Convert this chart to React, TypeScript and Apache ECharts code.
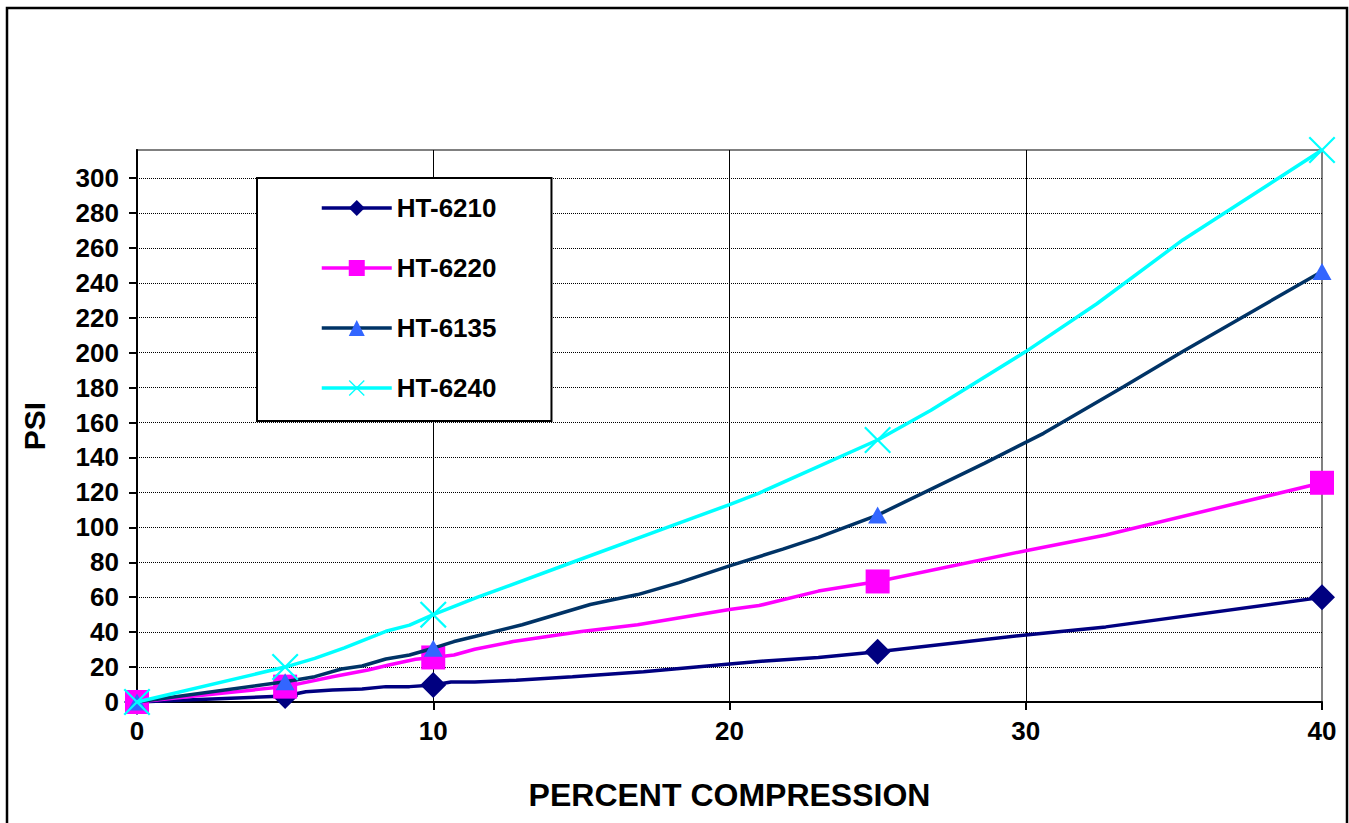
import React, { useEffect, useRef } from "react";
import * as echarts from "echarts";

// ---- data ----
const seriesNames = ["HT-6210", "HT-6220", "HT-6135", "HT-6240"];
const xTicks = [0, 10, 20, 30, 40];
const yTicks = [0, 20, 40, 60, 80, 100, 120, 140, 160, 180, 200, 220, 240, 260, 280, 300];
const markerX = [0, 5, 10, 25, 40];

const ht6210X = [0, 5, 5.7, 6.6, 7.6, 8.4, 9.2, 10, 10.6, 11.4, 12.8, 14.7, 17.1, 20, 21.2, 23, 25, 30, 32.7, 40];
const ht6210Y = [0, 3.4, 5.9, 6.9, 7.4, 8.8, 8.8, 9.7, 11.5, 11.5, 12.5, 14.4, 17.3, 21.7, 23.5, 25.5, 28.8, 38.4, 43, 59.9];

const ht6220X = [0, 5, 6.6, 7.8, 8.5, 9.4, 10, 10.7, 11.4, 12.7, 15, 16.9, 20, 21, 23, 25, 30, 32.7, 40];
const ht6220Y = [0, 8.8, 14.5, 18.3, 21.2, 24.5, 25.5, 26.9, 30.2, 34.6, 40.4, 44.2, 52.9, 55.2, 63.5, 69, 86.6, 95.6, 125.5];

const ht6135X = [0, 5, 6, 6.9, 7.6, 8.4, 9.2, 10, 10.7, 11.4, 13, 15.3, 16.9, 18.3, 20, 21.8, 23, 25, 28.6, 30.6, 33.3, 35.3, 40];
const ht6135Y = [0, 11.6, 14.5, 18.9, 20.6, 24.6, 26.9, 30.8, 34.6, 37.5, 44.2, 55.8, 61.5, 68.3, 77.9, 87.5, 94.2, 107, 136.6, 153.8, 180.5, 200.6, 246.5];

const ht6240X = [0, 5, 6, 7, 8.4, 9.2, 10, 11.5, 14.7, 17.9, 20, 21, 25, 26.8, 30, 32.4, 35.3, 40];
const ht6240Y = [0, 20, 25, 31, 40.5, 44, 50, 60, 80, 100, 113, 119.6, 150, 167, 200.6, 228, 264.5, 316];

const crossSymbol =
  "path://M0,1.5L1.5,0L13,11.5L24.5,0L26,1.5L14.5,13L26,24.5L24.5,26L13,14.5L1.5,26L0,24.5L11.5,13Z";

function buildData(xs: number[], ys: number[]) {
  return xs.map((x, i) => {
    const item: any = { value: [x, ys[i]] };
    if (markerX.indexOf(x) < 0) item.symbol = "none";
    return item;
  });
}

const FONT = "'Liberation Sans', Arial, Helvetica, sans-serif";

export default function App() {
  const ref = useRef<HTMLDivElement>(null);

  useEffect(() => {
    if (!ref.current) return;
    const chart = echarts.init(ref.current, undefined, { renderer: "svg" });

    const lineBase = { type: "line", clip: false, showSymbol: true };

    const option: any = {
      animation: false,
      backgroundColor: "#ffffff",
      textStyle: { fontFamily: FONT },
      grid: {
        left: 137,
        right: 27,
        top: 150,
        bottom: 121,
        show: true,
        borderColor: "#808080",
        borderWidth: 2,
        backgroundColor: "transparent",
      },
      legend: {
        orient: "vertical",
        left: 257,
        top: 178,
        padding: [17, 55, 20, 63],
        itemGap: 34,
        itemWidth: 70,
        itemHeight: 20,
        backgroundColor: "#ffffff",
        borderColor: "#000000",
        borderWidth: 2,
        lineStyle: { width: 3.5 },
        textStyle: { fontSize: 26, fontWeight: "bold", color: "#000", fontFamily: FONT },
        data: seriesNames,
      },
      xAxis: {
        type: "value",
        min: xTicks[0],
        max: xTicks[xTicks.length - 1],
        interval: xTicks[1] - xTicks[0],
        name: "PERCENT COMPRESSION",
        nameLocation: "middle",
        nameGap: 77,
        nameTextStyle: { fontSize: 32, fontWeight: "bold", color: "#000", fontFamily: FONT },
        axisLine: { show: true, onZero: false, lineStyle: { color: "#000", width: 2 } },
        axisTick: { show: true, length: 8, lineStyle: { color: "#000", width: 2 } },
        axisLabel: { fontSize: 26, fontWeight: "bold", color: "#000", margin: 16, fontFamily: FONT },
        splitLine: { show: true, showMaxLine: false, lineStyle: { color: "#000", width: 1, type: "solid" } },
      },
      yAxis: {
        type: "value",
        min: yTicks[0],
        max: 316,
        interval: yTicks[1] - yTicks[0],
        name: "PSI",
        nameLocation: "middle",
        nameGap: 88,
        nameTextStyle: { fontSize: 30, fontWeight: "bold", color: "#000", fontFamily: FONT },
        axisLine: { show: true, onZero: false, lineStyle: { color: "#000", width: 2 } },
        axisTick: { show: true, length: 8, lineStyle: { color: "#000", width: 2 } },
        axisLabel: {
          fontSize: 26,
          fontWeight: "bold",
          color: "#000",
          margin: 18,
          showMaxLabel: false,
          fontFamily: FONT,
        },
        splitLine: { show: true, showMaxLine: false, lineStyle: { color: "#000", width: 1, type: "dotted" } },
      },
      series: [
        {
          ...lineBase,
          name: seriesNames[0],
          data: buildData(ht6210X, ht6210Y),
          symbol: "diamond",
          symbolSize: 26,
          color: "#000080",
          lineStyle: { color: "#000080", width: 3.5 },
          itemStyle: { color: "#000080", borderWidth: 0 },
          z: 2,
        },
        {
          ...lineBase,
          name: seriesNames[1],
          data: buildData(ht6220X, ht6220Y),
          symbol: "rect",
          symbolSize: 24,
          color: "#FF00FF",
          lineStyle: { color: "#FF00FF", width: 3.5 },
          itemStyle: { color: "#FF00FF", borderWidth: 0 },
          z: 3,
        },
        {
          ...lineBase,
          name: seriesNames[2],
          data: buildData(ht6135X, ht6135Y),
          symbol: "triangle",
          symbolSize: [19, 17],
          color: "#003366",
          lineStyle: { color: "#003366", width: 3.5 },
          itemStyle: { color: "#3366FF", borderWidth: 0 },
          z: 4,
        },
        {
          ...lineBase,
          name: seriesNames[3],
          data: buildData(ht6240X, ht6240Y),
          symbol: crossSymbol,
          symbolSize: 27,
          color: "#00FFFF",
          lineStyle: { color: "#00FFFF", width: 3.5 },
          itemStyle: { color: "#00FFFF", borderWidth: 0 },
          z: 5,
        },
      ],
      graphic: [
        {
          type: "rect",
          silent: true,
          z: 100,
          shape: { x: 7, y: 8, width: 1340, height: 840 },
          style: { fill: "none", stroke: "#000", lineWidth: 2.5 },
        },
      ],
    };

    chart.setOption(option);
    return () => chart.dispose();
  }, []);

  return (
    <div
      ref={ref}
      style={{ position: "absolute", left: 0, top: 0, width: 1349, height: 823 }}
    />
  );
}
